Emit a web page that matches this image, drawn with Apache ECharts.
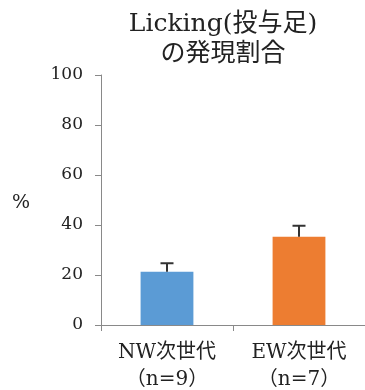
<!DOCTYPE html>
<html><head><meta charset="utf-8">
<script src="https://cdn.jsdelivr.net/npm/echarts@6/dist/echarts.min.js"></script>
<style>html,body{margin:0;padding:0;background:#fff}#c{width:365px;height:390px}</style>
</head><body><div id="c"></div>
<script>
const categories = ['NW次世代\n（n=9）', 'EW次世代\n（n=7）'];
const values = [21.3, 35.3];
const errors = [3.4, 4.4];
const colors = ['#5B9BD5', '#ED7D31'];
const yTicks = [0, 20, 40, 60, 80, 100];

const serif = "'DejaVu Serif','Liberation Serif','Noto Sans CJK JP',serif";
const chart = echarts.init(document.getElementById('c'));
chart.setOption({
  animation: false,
  title: {
    text: 'Licking(投与足)\nの発現割合',
    left: 218, top: 4, textAlign: 'center',
    textStyle: { fontFamily: serif, fontWeight: 'normal', fontSize: 25, color: '#222', lineHeight: 30 }
  },
  graphic: [{ type: 'text', left: 12, top: 194, style: { text: '%', font: "19px 'DejaVu Serif',serif", fill: '#222' } }],
  grid: { left: 101, right: 0, top: 75, bottom: 65, outerBoundsMode: 'none', containLabel: false },
  xAxis: {
    type: 'category', data: categories,
    axisLine: { lineStyle: { color: '#898989', width: 1 } },
    axisTick: { show: true, length: 6, lineStyle: { color: '#898989' } },
    axisLabel: { fontFamily: serif, fontSize: 20, color: '#222', lineHeight: 27, margin: 14 }
  },
  yAxis: {
    type: 'value', min: yTicks[0], max: yTicks[yTicks.length - 1], interval: 20,
    axisLine: { show: true, lineStyle: { color: '#898989' } },
    axisTick: { show: true, length: 6, lineStyle: { color: '#898989' } },
    splitLine: { show: false },
    axisLabel: { fontFamily: serif, fontSize: 17, color: '#222', margin: 18 }
  },
  series: [{
    type: 'bar', barWidth: '40%',
    data: values.map((v, i) => ({ value: v, itemStyle: { color: colors[i] } }))
  }, {
    type: 'custom',
    data: values.map((v, i) => [i, v, v + errors[i]]),
    renderItem: function (params, api) {
      const base = api.coord([api.value(0), api.value(1)]);
      const top = api.coord([api.value(0), api.value(2)]);
      const hw = 6.5;
      return { type: 'group', children: [
        { type: 'line', shape: { x1: base[0], y1: base[1], x2: top[0], y2: top[1] }, style: { stroke: '#333', lineWidth: 2 } },
        { type: 'line', shape: { x1: top[0] - hw, y1: top[1], x2: top[0] + hw, y2: top[1] }, style: { stroke: '#333', lineWidth: 2 } }
      ]};
    },
    z: 10
  }]
});
</script></body></html>
